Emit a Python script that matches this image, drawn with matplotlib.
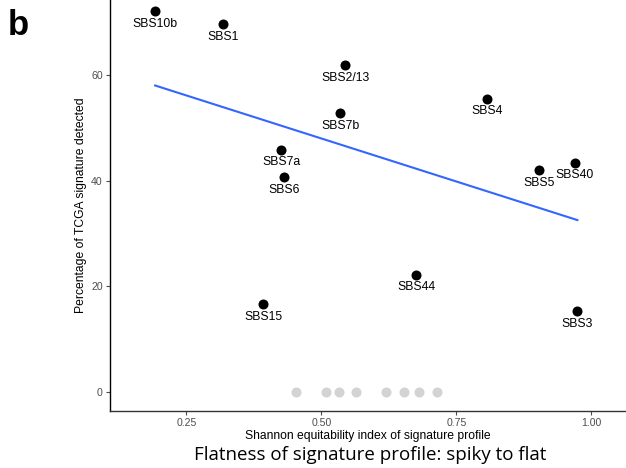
import numpy as np
import matplotlib
matplotlib.use("Agg")
import matplotlib.pyplot as plt

# signatures detected in TCGA
sig_names = ["SBS10b", "SBS1", "SBS2/13", "SBS7b", "SBS4", "SBS5", "SBS40",
             "SBS7a", "SBS6", "SBS15", "SBS44", "SBS3"]
sig_x = [0.192, 0.317, 0.544, 0.535, 0.807, 0.903, 0.969,
         0.426, 0.431, 0.392, 0.676, 0.974]
sig_y = [72.2, 69.7, 61.9, 52.8, 55.6, 42.0, 43.4,
         45.9, 40.7, 16.6, 22.2, 15.3]

# signatures not detected (0 %)
zero_x = [0.452, 0.508, 0.533, 0.564, 0.619, 0.652, 0.681, 0.714]
zero_y = [0, 0, 0, 0, 0, 0, 0, 0]

x_ticks = [0.25, 0.50, 0.75, 1.00]
y_ticks = [0, 20, 40, 60]

plt.rcParams['font.family'] = ['Liberation Sans', 'DejaVu Sans']

fig = plt.figure(figsize=(6.26, 4.68), dpi=100)
ax = fig.add_axes([0.1752, 0.1224, 0.8248, 0.8776])

ax.scatter(zero_x, zero_y, s=52, color='#D3D3D3', linewidths=0, zorder=2)
ax.scatter(sig_x, sig_y, s=52, color='black', linewidths=0, zorder=3)

# linear fit over detected signatures
coef = np.polyfit(sig_x, sig_y, 1)
xs = np.array([min(sig_x), max(sig_x)])
ax.plot(xs, np.polyval(coef, xs), color='#3366FF', lw=1.5, zorder=2)

for name, x, y in zip(sig_names, sig_x, sig_y):
    ax.annotate(name, (x, y), xytext=(0, -9), textcoords='offset points',
                ha='center', va='center', fontsize=8.8, color='black')

ax.set_xlim(0.1078, 1.064)
ax.set_ylim(-3.6, 74.3)
ax.set_xticks(x_ticks)
ax.set_xticklabels(["0.25", "0.50", "0.75", "1.00"])
ax.set_yticks(y_ticks)

for s in ['top', 'right']:
    ax.spines[s].set_visible(False)
ax.spines['left'].set_color('black')
ax.spines['bottom'].set_color('#333333')
ax.spines['left'].set_linewidth(1.0)
ax.spines['bottom'].set_linewidth(1.0)
ax.tick_params(axis='both', colors='#4D4D4D', labelsize=7.6, length=3, width=0.8, pad=2)

ax.set_xlabel("Shannon equitability index of signature profile", fontsize=8.7, labelpad=2)
ax.set_ylabel("Percentage of TCGA signature detected", fontsize=8.7, labelpad=3)

fig.text(0.592, 0.027, "Flatness of signature profile: spiky to flat",
         ha='center', va='center', fontsize=13.5, family=['Open Sans', 'DejaVu Sans'])
fig.text(0.013, 0.945, "b", ha='left', va='center', fontsize=25, fontweight='bold')

fig.savefig("out.png", dpi=100)
